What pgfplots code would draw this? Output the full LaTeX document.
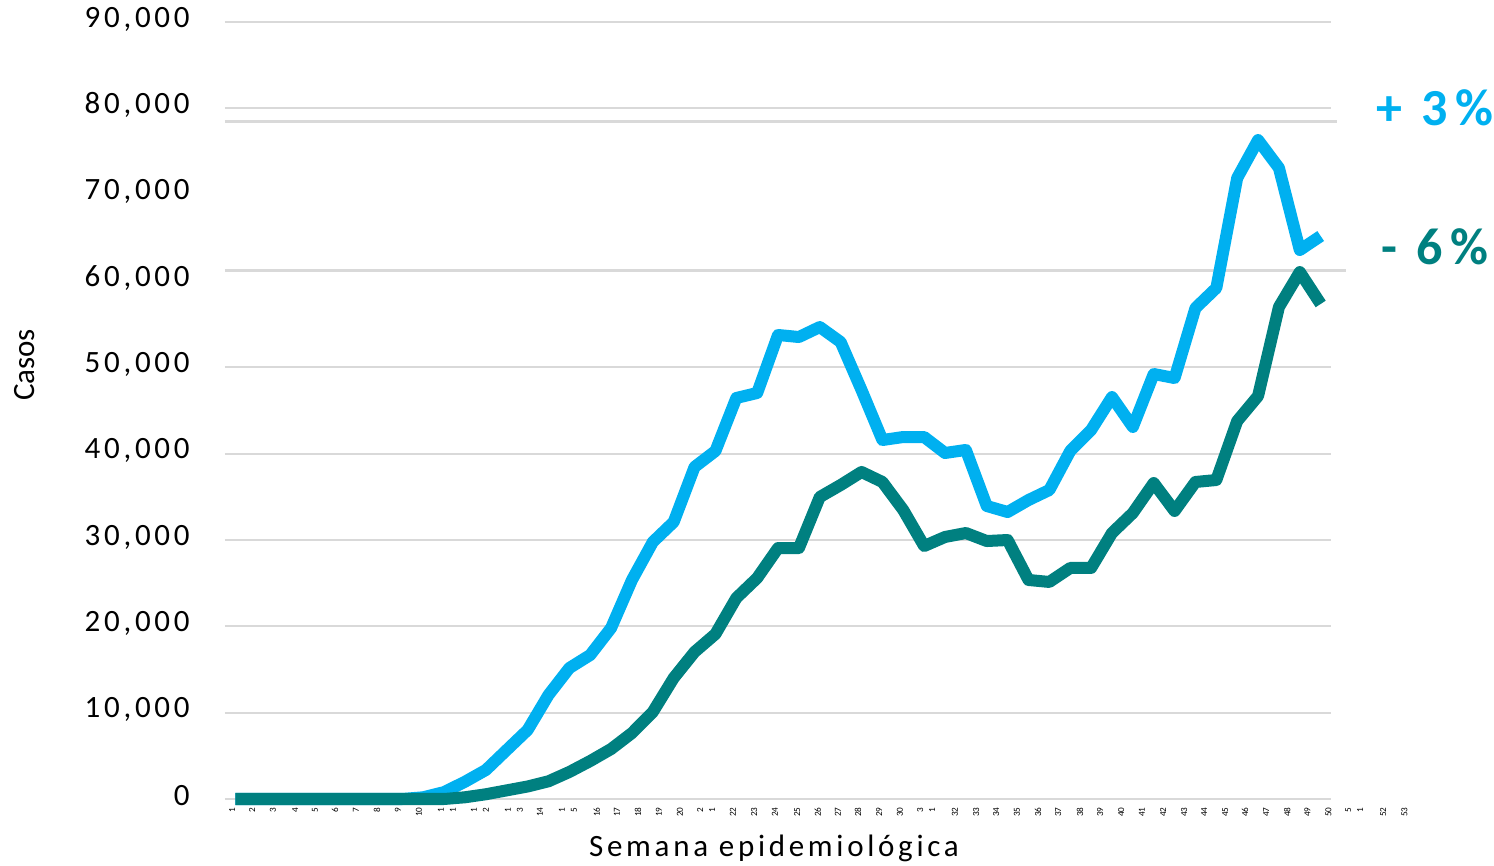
\documentclass[border=0pt]{standalone}
\usepackage{fontspec}
\setmainfont{Carlito}
\newfontfamily\lsfont{Carlito}[LetterSpace=12]
\newfontfamily\lsbold{Carlito}[LetterSpace=14]
\usepackage{pgfplots}
\usepackage{pgfplotstable}
\pgfplotsset{compat=1.18}
\definecolor{celeste}{HTML}{00B0F0}
\definecolor{verdeazul}{HTML}{008080}
\definecolor{gridc}{HTML}{D9D9D9}

% casos semanales por semana epidemiologica
\pgfplotstableread{
sem serieA serieB
1 0 0
2 0 0
3 0 0
4 0 0
5 0 0
6 0 0
7 0 0
8 0 0
9 0 0
10 200 0
11 800 0
12 2000 200
13 3360 550
14 5680 1000
15 7990 1450
16 12050 2050
17 15170 3130
18 16680 4400
19 19810 5790
20 25370 7640
21 29770 10080
22 32090 14020
23 38460 17030
24 40310 19110
25 46450 23280
26 47030 25600
27 53750 29070
28 53510 29070
29 54670 34980
30 52930 36370
31 47370 37880
32 41580 36720
33 41930 33470
34 41930 29300
35 40080 30350
36 40430 30810
37 33940 29880
38 33240 30000
39 34630 25370
40 35790 25140
41 40310 26760
42 42740 26760
43 46560 30810
44 43090 33130
45 49230 36600
46 48760 33360
47 56870 36720
48 59190 36950
49 71930 43780
50 76330 46680
51 73090 56990
52 63590 61040
53 65210 57340
}\datos

\begin{document}
\begin{tikzpicture}
\path[use as bounding box] (-112.5bp,-33.5bp) rectangle (634.5bp,399.5bp);
\begin{axis}[
  at={(0,0)}, anchor=south west,
  scale only axis, width=594.8bp, height=388.5bp,
  xmin=0.5, xmax=57.5, ymin=0, ymax=90000,
  axis line style={draw=none}, tick style={draw=none}, major tick length=0pt,
  clip=false,
  xtick={0.84,1.80,2.80,3.86,4.81,5.77,6.77,7.78,8.79,9.79,11.13,12.71,14.35,15.59,16.93,18.32,19.28,20.29,21.29,22.30,23.55,24.84,25.85,26.85,27.91,28.91,29.87,30.83,31.84,32.84,34.09,35.48,36.49,37.45,38.45,39.46,40.42,41.47,42.43,43.44,44.44,45.45,46.46,47.42,48.42,49.38,50.39,51.40,52.36,53.37,54.61,56.00,57.01},
  xticklabels={1,2,3,4,5,6,7,8,9,10,{1\\1},{1\\2},{1\\3},14,{1\\5},16,17,18,19,20,{2\\1},22,23,24,25,26,27,28,29,30,{3\\1},32,33,34,35,36,37,38,39,40,41,42,43,44,45,46,47,48,49,50,{5\\1},52,53},
  xticklabel style={font=\fontsize{4.6bp}{6bp}\selectfont, rotate=90, anchor=east, inner sep=0pt, align=center},
  xticklabel shift=4bp,
  ytick={0,10000,...,90000},
  yticklabels={0,{10,000},{20,000},{30,000},{40,000},{50,000},{60,000},{70,000},{80,000},{90,000}},
  yticklabel style={font=\lsfont\fontsize{15.5bp}{16bp}\selectfont, anchor=east, inner sep=0pt, yshift=1.5bp},
  yticklabel shift=17.5bp,
]
\pgfplotsinvokeforeach{0,10000,20000,30000,40000,50000,80000,90000}{
  \draw[gridc, line width=1bp] (axis cs:0.5,#1) -- (axis cs:53.5,#1);
}
\draw[gridc, line width=1.5bp] (axis cs:0.5,78420) -- (axis cs:53.8,78420);
\draw[gridc, line width=1.5bp] (axis cs:0.5,61275) -- (axis cs:54.2,61275);
\addplot[celeste, line width=6bp, line join=round, mark=none] table[x=sem, y=serieA] {\datos};
\addplot[verdeazul, line width=6bp, line join=round, mark=none] table[x=sem, y=serieB] {\datos};
\end{axis}
\node[rotate=90, font=\fontsize{15.5bp}{16bp}\selectfont] at (-100bp,217bp) {Casos};
\node[font=\lsfont\fontsize{15.5bp}{16bp}\selectfont] at (274.5bp,-24.5bp) {Semana epidemiológica};
\node[font=\lsbold\bfseries\fontsize{26bp}{28bp}\selectfont, text=celeste] at (605bp,345.5bp) {+ 3\%};
\node[font=\lsbold\bfseries\fontsize{26bp}{28bp}\selectfont, text=verdeazul] at (605bp,276bp) {- 6\%};
\end{tikzpicture}
\end{document}
